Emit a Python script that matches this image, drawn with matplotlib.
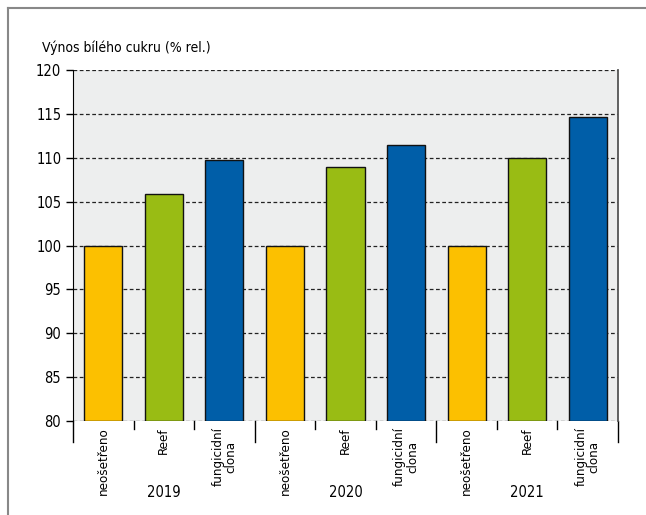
import numpy as np
import matplotlib.pyplot as plt
from matplotlib.lines import Line2D

years = ["2019", "2020", "2021"]
treatments = ["neošetřeno", "Reef", "fungicidní\nclona"]
colors = ["#FCC000", "#99BC14", "#005EA8"]
values = [
    [100.0, 105.9, 109.7],
    [100.0, 109.0, 111.4],
    [100.0, 110.0, 114.7],
]

plt.rcParams["font.family"] = ["DejaVu Sans"]
plt.rcParams["font.stretch"] = "condensed"

fig = plt.figure(figsize=(6.46, 5.15), dpi=100)
ax = fig.add_axes([73 / 646, 1 - 421 / 515, (618 - 73) / 646, (421 - 70) / 515])
ax.set_facecolor("#EDEEEE")

x = 0
for yi, year in enumerate(years):
    for ti, treat in enumerate(treatments):
        ax.bar(x, values[yi][ti] - 80, bottom=80, width=0.63,
               color=colors[ti], edgecolor="#111111", linewidth=1, zorder=3)
        ax.text(x, 79.3, treat, rotation=90, ha="center", va="top",
                fontsize=9.5, multialignment="center", linespacing=1.0)
        x += 1
    ax.text(yi * 3 + 1, 71.8, year, ha="center", va="center", fontsize=10.5)

ax.set_xlim(-0.5, 8.5)
ax.set_ylim(80, 120)
ax.set_yticks(np.arange(80, 121, 5))
ax.tick_params(axis="y", labelsize=10.5, length=5, width=1)
ax.set_xticks([])
for yv in np.arange(80, 121, 5):
    ax.axhline(yv, color="#222222", linestyle=(0, (3, 2)), linewidth=0.9, zorder=2)

# category separator ticks
for k in range(10):
    xp = k - 0.5
    long = k % 3 == 0
    ax.plot([xp, xp], [80, 80 - (2.4 if long else 0.9)], color="black",
            linewidth=1, clip_on=False)

ax.spines["top"].set_visible(False)
ax.spines["right"].set_color("#555555")
ax.spines["right"].set_linewidth(1.3)
ax.spines["left"].set_color("black")
ax.spines["bottom"].set_visible(False)

fig.text(42 / 646, 1 - 48 / 515, "Výnos bílého cukru (% rel.)", fontsize=10,
         ha="left", va="center")

# outer frame
fig.add_artist(Line2D([8 / 646, 8 / 646], [0, 1 - 8 / 515], color="#888888",
                      linewidth=1.5, transform=fig.transFigure))
fig.add_artist(Line2D([8 / 646, 1], [1 - 8 / 515, 1 - 8 / 515], color="#888888",
                      linewidth=1.5, transform=fig.transFigure))

fig.savefig("out.png", dpi=100)
